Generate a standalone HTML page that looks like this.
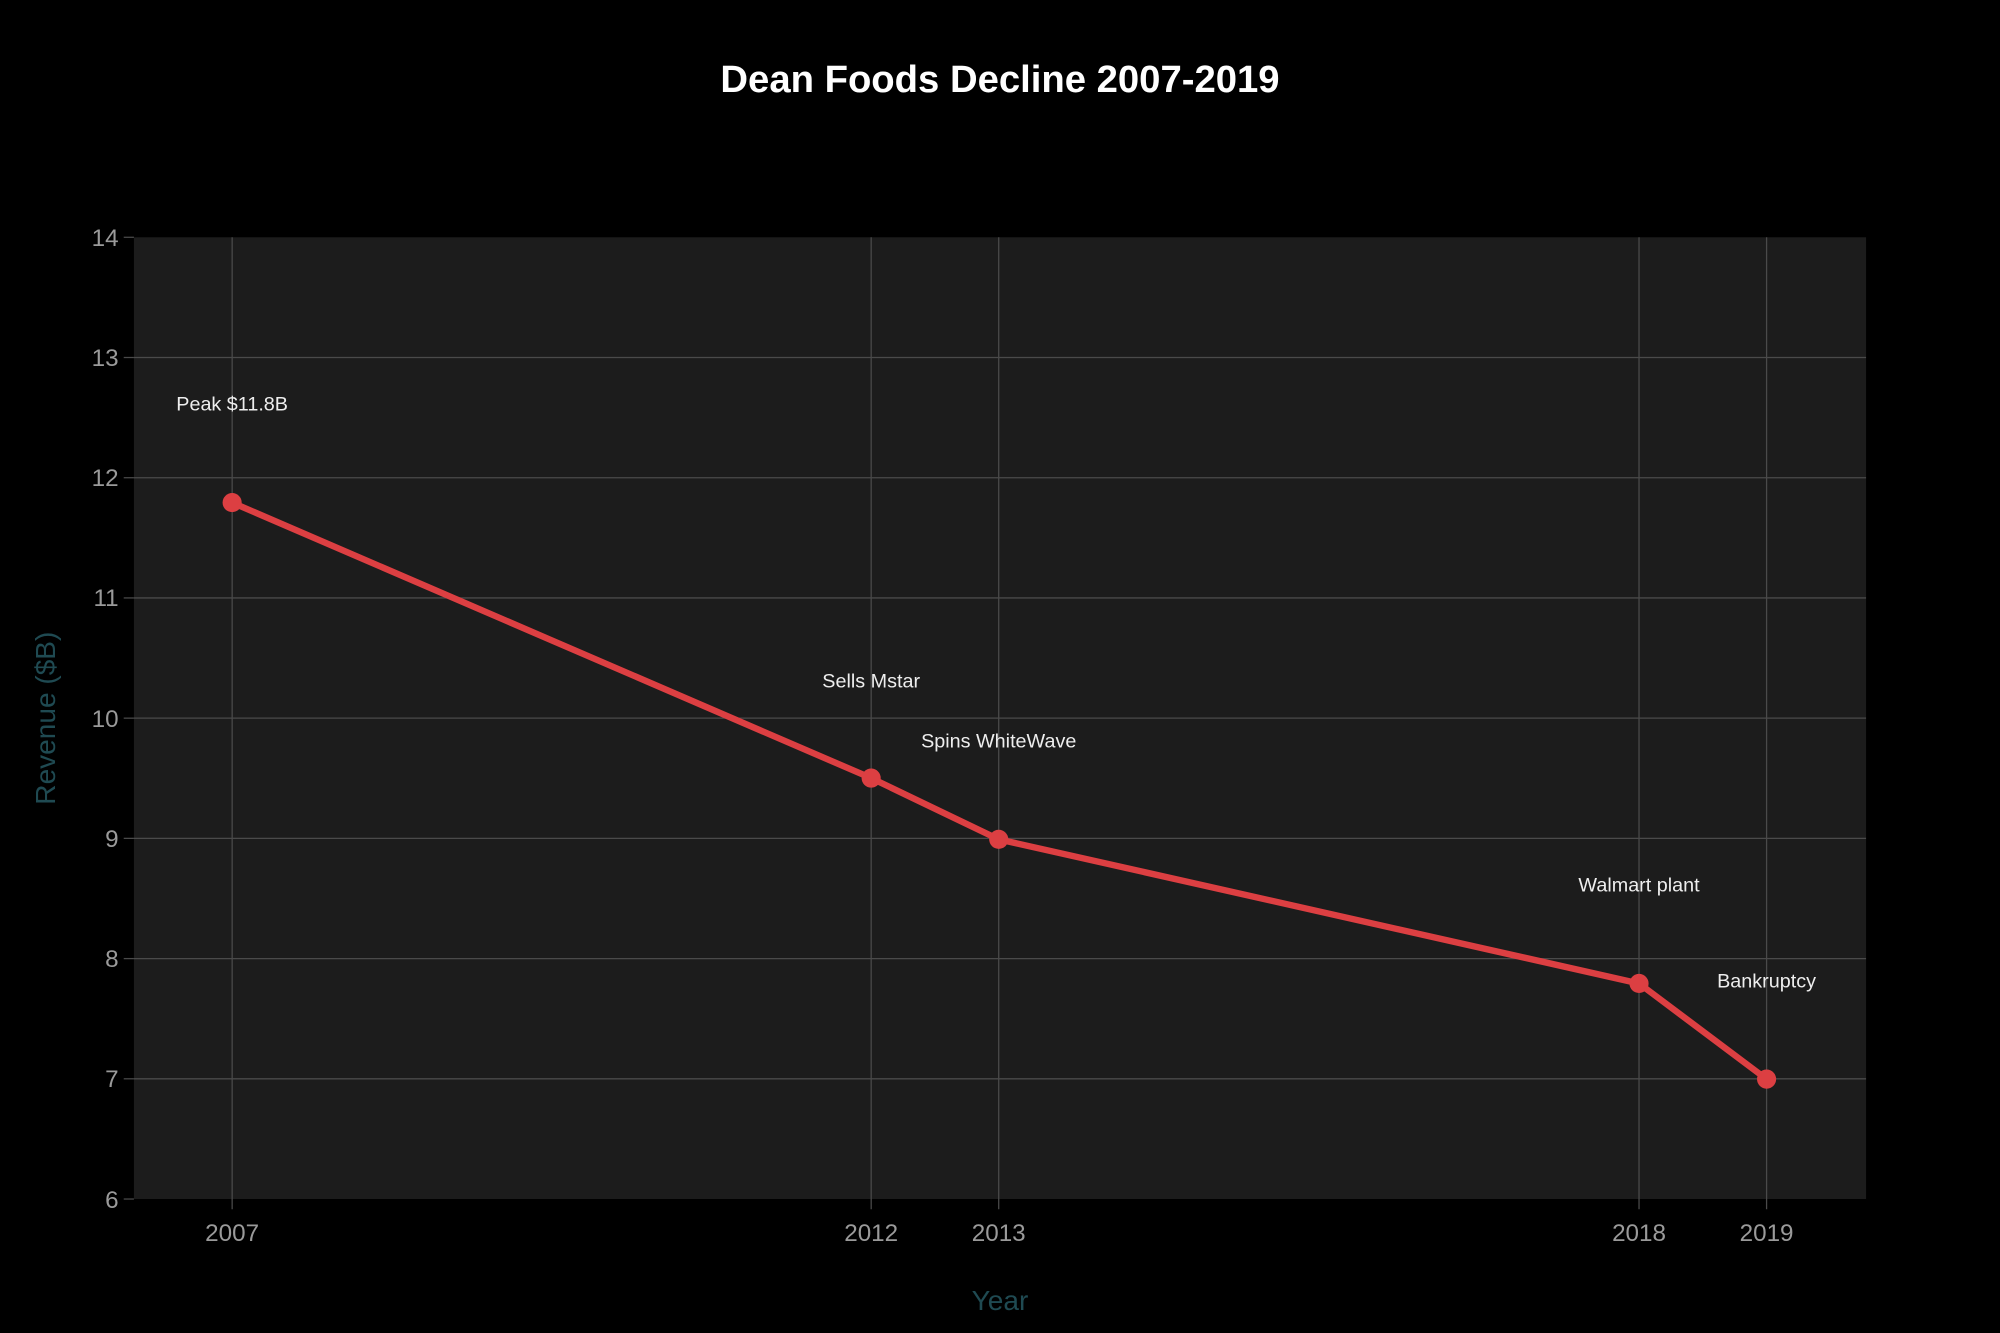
<!DOCTYPE html>
<html><head><style>html,body{margin:0;padding:0;background:#000;}svg{display:block}</style></head>
<body>
<svg width="2000" height="1333" viewBox="0 0 1568 1045" xmlns="http://www.w3.org/2000/svg" font-family="Liberation Sans, sans-serif">
<rect width="1568" height="1045" fill="#000"/>
<rect x="105" y="186" width="1358" height="754" fill="#1c1c1c"/>
<g stroke="#4a4a4a" stroke-width="1">
<line x1="105" x2="1463" y1="280.25" y2="280.25"/>
<line x1="105" x2="1463" y1="374.5" y2="374.5"/>
<line x1="105" x2="1463" y1="468.75" y2="468.75"/>
<line x1="105" x2="1463" y1="563" y2="563"/>
<line x1="105" x2="1463" y1="657.25" y2="657.25"/>
<line x1="105" x2="1463" y1="751.5" y2="751.5"/>
<line x1="105" x2="1463" y1="845.75" y2="845.75"/>
<line x1="182" x2="182" y1="186" y2="948"/>
<line x1="683" x2="683" y1="186" y2="948"/>
<line x1="783" x2="783" y1="186" y2="948"/>
<line x1="1285" x2="1285" y1="186" y2="948"/>
<line x1="1385" x2="1385" y1="186" y2="948"/>
<line x1="97" x2="105" y1="186" y2="186"/>
<line x1="97" x2="105" y1="280.25" y2="280.25"/>
<line x1="97" x2="105" y1="374.5" y2="374.5"/>
<line x1="97" x2="105" y1="468.75" y2="468.75"/>
<line x1="97" x2="105" y1="563" y2="563"/>
<line x1="97" x2="105" y1="657.25" y2="657.25"/>
<line x1="97" x2="105" y1="751.5" y2="751.5"/>
<line x1="97" x2="105" y1="845.75" y2="845.75"/>
<line x1="97" x2="105" y1="940" y2="940"/>
</g>
<g fill="#9a9a9a" font-size="19" text-anchor="end">
<text x="93" y="193">14</text><text x="93" y="287">13</text><text x="93" y="381">12</text>
<text x="93" y="475">11</text><text x="93" y="570">10</text><text x="93" y="664">9</text>
<text x="93" y="758">8</text><text x="93" y="852">7</text><text x="93" y="947">6</text>
</g>
<g fill="#9a9a9a" font-size="19" text-anchor="middle">
<text x="182" y="973">2007</text><text x="683" y="973">2012</text><text x="783" y="973">2013</text>
<text x="1285" y="973">2018</text><text x="1385" y="973">2019</text>
</g>
<text x="784" y="1027" fill="#1f4a52" font-size="22" text-anchor="middle">Year</text>
<text transform="translate(43,563) rotate(-90)" fill="#1f4a52" font-size="22" text-anchor="middle">Revenue ($B)</text>
<text x="784" y="72" fill="#fff" font-size="30" font-weight="bold" text-anchor="middle">Dean Foods Decline 2007-2019</text>
<polyline points="182,394 683,610 783,658 1285,771 1385,846" fill="none" stroke="#dc3f42" stroke-width="5" stroke-linejoin="round"/>
<g fill="#dc3f42">
<circle cx="182" cy="394" r="7.5"/><circle cx="683" cy="610" r="7.5"/><circle cx="783" cy="658" r="7.5"/>
<circle cx="1285" cy="771" r="7.5"/><circle cx="1385" cy="846" r="7.5"/>
</g>
<g fill="#eee" font-size="15.5" text-anchor="middle">
<text x="182" y="322">Peak $11.8B</text>
<text x="683" y="539">Sells Mstar</text>
<text x="783" y="586">Spins WhiteWave</text>
<text x="1285" y="699">Walmart plant</text>
<text x="1385" y="774">Bankruptcy</text>
</g>
</svg>
</body></html>
